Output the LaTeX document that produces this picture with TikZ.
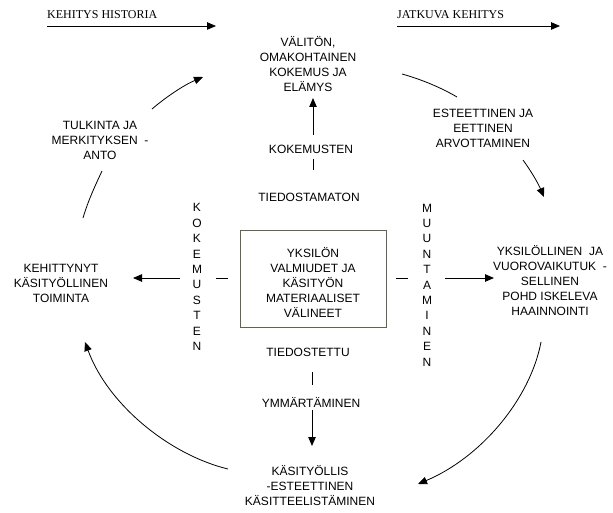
\documentclass[tikz,border=0pt]{standalone}
\usepackage{fontspec}
\setmainfont{Liberation Sans}
\newfontfamily\serifhead{Liberation Serif}
\usetikzlibrary{arrows.meta}
\definecolor{boxline}{rgb}{0.40,0.39,0.30}
\tikzset{
  lbl/.style={inner sep=0pt, align=center, font=\fontsize{12}{15}\selectfont},
  vlbl/.style={inner sep=0pt, align=center, font=\fontsize{12}{15.4}\selectfont},
  head/.style={inner sep=0pt, anchor=west, font=\serifhead\fontsize{12}{14}\selectfont},
  conn/.style={line width=0.8pt},
  arr/.style={line width=0.8pt, -{Triangle[length=9pt,width=7.5pt]}},
  frame/.style={draw=boxline, line width=1pt}
}
\begin{document}
\begin{tikzpicture}[x=1pt,y=-1pt]
\useasboundingbox (0,0) rectangle (613,513);
% headers
\node[head] (hist) at (47,15) {KEHITYS HISTORIA};
\node[head] (jatk) at (397,15) {JATKUVA KEHITYS};
\coordinate (h1a) at (47,26); \coordinate (h1b) at (216,26);
\coordinate (h2a) at (397,26); \coordinate (h2b) at (560,26);
\draw[arr] (h1a) -- (h1b);
\draw[arr] (h2a) -- (h2b);
% nodes
\node[lbl] (top) at (308,64) {VÄLITÖN,\\OMAKOHTAINEN\\KOKEMUS JA\\ELÄMYS};
\node[lbl] (tulk) at (100,140) {TULKINTA JA\\MERKITYKSEN \ -\\ANTO};
\node[lbl] (est) at (483,128) {ESTEETTINEN JA\\EETTINEN\\ARVOTTAMINEN};
\node[lbl] (left) at (61,283) {KEHITTYNYT\\KÄSITYÖLLINEN\\TOIMINTA};
\node[lbl] (right) at (550,281) {YKSILÖLLINEN \ JA\\VUOROVAIKUTUK \ -\\SELLINEN\\POHD ISKELEVA\\HAAINNOINTI};
\node[lbl] (bottom) at (310,486) {KÄSITYÖLLIS\\-ESTEETTINEN\\KÄSITTEELISTÄMINEN};
\draw[frame] (240,231) rectangle (386,327);
\node[lbl, text depth=0pt] (center) at (313,282) {YKSILÖN\\VALMIUDET JA\\KÄSITYÖN\\MATERIAALISET\\VÄLINEET};
\node[lbl] (kokh) at (311,149) {KOKEMUSTEN};
\node[lbl] (tdm) at (309,197) {TIEDOSTAMATON};
\node[lbl] (tdt) at (308,352) {TIEDOSTETTU};
\node[lbl] (ymm) at (311,402) {YMMÄRTÄMINEN};
\node[vlbl] (kokv) at (197,277) {K\\O\\K\\E\\M\\U\\S\\T\\E\\N};
\node[vlbl] (muun) at (427,285) {M\\U\\U\\N\\T\\A\\M\\I\\N\\E\\N};
% central connectors
\coordinate (u1) at (313,135); \coordinate (u2) at (313,98);
\coordinate (d1) at (313,159); \coordinate (d2) at (313,170);
\coordinate (b1) at (312,372); \coordinate (b2) at (312,385);
\coordinate (v1) at (312,410); \coordinate (v2) at (312,446);
\coordinate (l1) at (180,278); \coordinate (l2) at (133,278);
\coordinate (ld1) at (216,278); \coordinate (ld2) at (228,278);
\coordinate (rd1) at (396,278); \coordinate (rd2) at (408,278);
\coordinate (r1) at (445,278); \coordinate (r2) at (494,278);
\draw[arr] (u1) -- (u2);
\draw[conn] (d1) -- (d2);
\draw[conn] (b1) -- (b2);
\draw[arr] (v1) -- (v2);
\draw[arr] (l1) -- (l2);
\draw[conn] (ld1) -- (ld2);
\draw[conn] (rd1) -- (rd2);
\draw[arr] (r1) -- (r2);
% cycle arcs
\coordinate (c1a) at (152,109); \coordinate (c1b) at (203,77);
\coordinate (c2a) at (102,171); \coordinate (c2b) at (83,218);
\coordinate (c3a) at (402,74); \coordinate (c3b) at (457,97);
\coordinate (c4a) at (523,160); \coordinate (c4b) at (544,197);
\coordinate (c5a) at (541,342); \coordinate (c5b) at (418,484);
\coordinate (c6a) at (228,469); \coordinate (c6b) at (85,342);
\draw[arr] (c1a) .. controls (166,97) and (184,85) .. (c1b);
\draw[conn] (c2a) .. controls (95,186) and (88,201) .. (c2b);
\draw[conn] (c3a) .. controls (420,79) and (440,87) .. (c3b);
\draw[arr] (c4a) .. controls (531,171) and (538,183) .. (c4b);
\draw[arr] (c5a) .. controls (530,400) and (480,458) .. (c5b);
\draw[arr] (c6a) .. controls (170,455) and (108,405) .. (c6b);
\end{tikzpicture}
\end{document}
